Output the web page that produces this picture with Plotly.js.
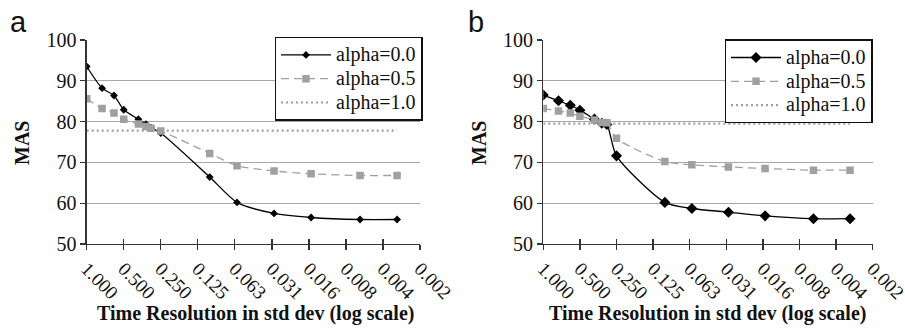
<!DOCTYPE html>
<html><head><meta charset="utf-8">
<script src="https://cdn.plot.ly/plotly-3.0.1.min.js"></script>
<style>html,body{margin:0;padding:0;background:#fff}#c{width:905px;height:331px}</style>
</head><body><div id="c"></div>
<script>
// Time resolution (std dev) of each measured point
const resolutions = [1, 0.75, 0.6, 0.5, 0.38, 0.33, 0.3, 0.25, 0.1, 0.06, 0.03, 0.015, 0.006, 0.003];
// Panel a
const a_alpha00 = [93.5, 88.2, 86.4, 82.9, 80.6, 79.4, 78.5, 77.2, 66.4, 60.2, 57.5, 56.5, 56.0, 56.0];
const a_alpha05 = [85.6, 83.2, 82.1, 80.6, 79.4, 78.8, 78.4, 77.7, 72.2, 69.2, 67.9, 67.2, 66.8, 66.8];
const a_alpha10 = [77.8, 77.8, 77.8, 77.8, 77.8, 77.8, 77.8, 77.8, 77.8, 77.8, 77.8, 77.8, 77.8, 77.8];
// Panel b
const b_alpha00 = [86.5, 85.1, 84.0, 82.8, 80.6, 79.6, 79.3, 71.6, 60.2, 58.7, 57.8, 56.9, 56.2, 56.2];
const b_alpha05 = [83.2, 82.6, 82.1, 81.3, 80.4, 79.8, 79.7, 75.9, 70.2, 69.4, 68.9, 68.5, 68.1, 68.1];
const b_alpha10 = [79.5, 79.5, 79.5, 79.5, 79.5, 79.5, 79.5, 79.5, 79.5, 79.5, 79.5, 79.5, 79.5, 79.5];
// Axis ticks
const xTickVals = [1, 0.5, 0.25, 0.125, 0.0625, 0.03125, 0.015625, 0.0078125, 0.00390625, 0.001953125];
const xTickText = ["1.000", "0.500", "0.250", "0.125", "0.063", "0.031", "0.016", "0.008", "0.004", "0.002"];
const seriesNames = ["alpha=0.0", "alpha=0.5", "alpha=1.0"];

const serif = "Liberation Serif";
const gray = "#a0a0a0";
const ink = "#111";

function legName(s) { return '<span style="font-size:20px">' + s + '</span>'; }

function panelTraces(xa, ya, leg, d0, d5, d10, dSize) {
  return [
    {x: resolutions, y: d0, xaxis: xa, yaxis: ya, legend: leg, name: legName(seriesNames[0]), mode: "lines+markers",
     line: {color: "#000", width: 1.3, shape: "spline", smoothing: 0.7},
     marker: {symbol: "diamond", size: dSize, color: "#000"}, hoverinfo: "skip"},
    {x: resolutions, y: d5, xaxis: xa, yaxis: ya, legend: leg, name: legName(seriesNames[1]), mode: "lines+markers",
     line: {color: gray, width: 1.3, dash: "8px,5px", shape: "spline", smoothing: 0.7},
     marker: {symbol: "square", size: 7.5, color: gray}, hoverinfo: "skip"},
    {x: resolutions, y: d10, xaxis: xa, yaxis: ya, legend: leg, name: legName(seriesNames[2]), mode: "lines",
     line: {color: gray, width: 2.2, dash: "2px,3px"}, hoverinfo: "skip"}
  ];
}

const traces = [].concat(
  panelTraces("x", "y", "legend", a_alpha00, a_alpha05, a_alpha10, 6),
  panelTraces("x2", "y2", "legend2", b_alpha00, b_alpha05, b_alpha10, 8.5),
  [{x: [], y: [], xaxis: "x3", yaxis: "y", showlegend: false, hoverinfo: "skip"},
   {x: [], y: [], xaxis: "x4", yaxis: "y2", showlegend: false, hoverinfo: "skip"}]
);

const xr = [0, Math.log10(xTickVals[xTickVals.length - 1])];
const W = 905, H = 331;
const yDom = [1 - 244 / H, 1 - 40 / H];

function xAxis(dom, anchor) {
  return {type: "log", domain: dom, anchor: anchor, range: xr, tickmode: "array",
    tickvals: xTickVals, ticktext: xTickText, tickangle: 45, ticklabeloverflow: "allow",
    tickfont: {family: serif, size: 19, color: ink},
    showgrid: false, zeroline: false, showline: true, linecolor: "#333", linewidth: 1.3,
    ticks: "outside", ticklen: 5, tickwidth: 1.3, tickcolor: "#333"};
}
function xAxisIn(dom, over, anchor) {
  return {type: "log", domain: dom, overlaying: over, anchor: anchor, range: xr, tickmode: "array",
    tickvals: xTickVals, showticklabels: false, showgrid: false, zeroline: false, showline: false,
    ticks: "inside", ticklen: 5, tickwidth: 1.3, tickcolor: "#333"};
}
function yAxis(anchor) {
  return {domain: yDom, anchor: anchor, range: [50, 100], tickvals: [50, 60, 70, 80, 90, 100],
    tickfont: {family: serif, size: 20, color: ink},
    showgrid: true, gridcolor: "#a8a8a8", gridwidth: 1.3, zeroline: false,
    showline: true, linecolor: "#333", linewidth: 1.3,
    ticks: "outside", ticklen: 5, tickwidth: 1.3, tickcolor: "#333"};
}
const dA = [86.7 / W, 420 / W], dB = [543.3 / W, 872.7 / W];

function legendBox(xRight, yTop) {
  return {x: xRight / W, xanchor: "right", y: 1 - yTop / H, yanchor: "top",
    bgcolor: "#fff", bordercolor: "#111", borderwidth: 1.3,
    font: {family: serif, size: 16, color: ink}, itemwidth: 50,
    tracegroupgap: 0, itemclick: false};
}

const ann = [];
function addAnn(text, x, y, size, bold, family, angle) {
  ann.push({text: bold ? "<b>" + text + "</b>" : text, x: x / W, y: 1 - y / H, xref: "paper", yref: "paper",
    showarrow: false, xanchor: "center", yanchor: "middle", textangle: angle || 0,
    font: {family: family, size: size, color: ink}});
}
addAnn("a", 18, 22, 29, false, "Liberation Sans");
addAnn("b", 476, 22, 29, false, "Liberation Sans");
addAnn("MAS", 22, 143, 20, true, serif, -90);
addAnn("MAS", 479, 143, 20, true, serif, -90);
addAnn("Time Resolution in std dev (log scale)", 255, 313, 20, true, serif);
addAnn("Time Resolution in std dev (log scale)", 707, 313, 20, true, serif);

const layout = {
  width: W, height: H, margin: {l: 0, r: 0, t: 0, b: 0},
  font: {family: serif, size: 18, color: ink},
  paper_bgcolor: "#fff", plot_bgcolor: "#fff",
  xaxis: xAxis(dA, "y"), xaxis2: xAxis(dB, "y2"),
  xaxis3: xAxisIn(dA, "x", "y"), xaxis4: xAxisIn(dB, "x2", "y2"),
  yaxis: yAxis("x"), yaxis2: yAxis("x2"),
  legend: legendBox(422.7, 36.7), legend2: legendBox(872.7, 39.3),
  annotations: ann, showlegend: true
};
Plotly.newPlot("c", traces, layout, {staticPlot: true});
</script></body></html>
